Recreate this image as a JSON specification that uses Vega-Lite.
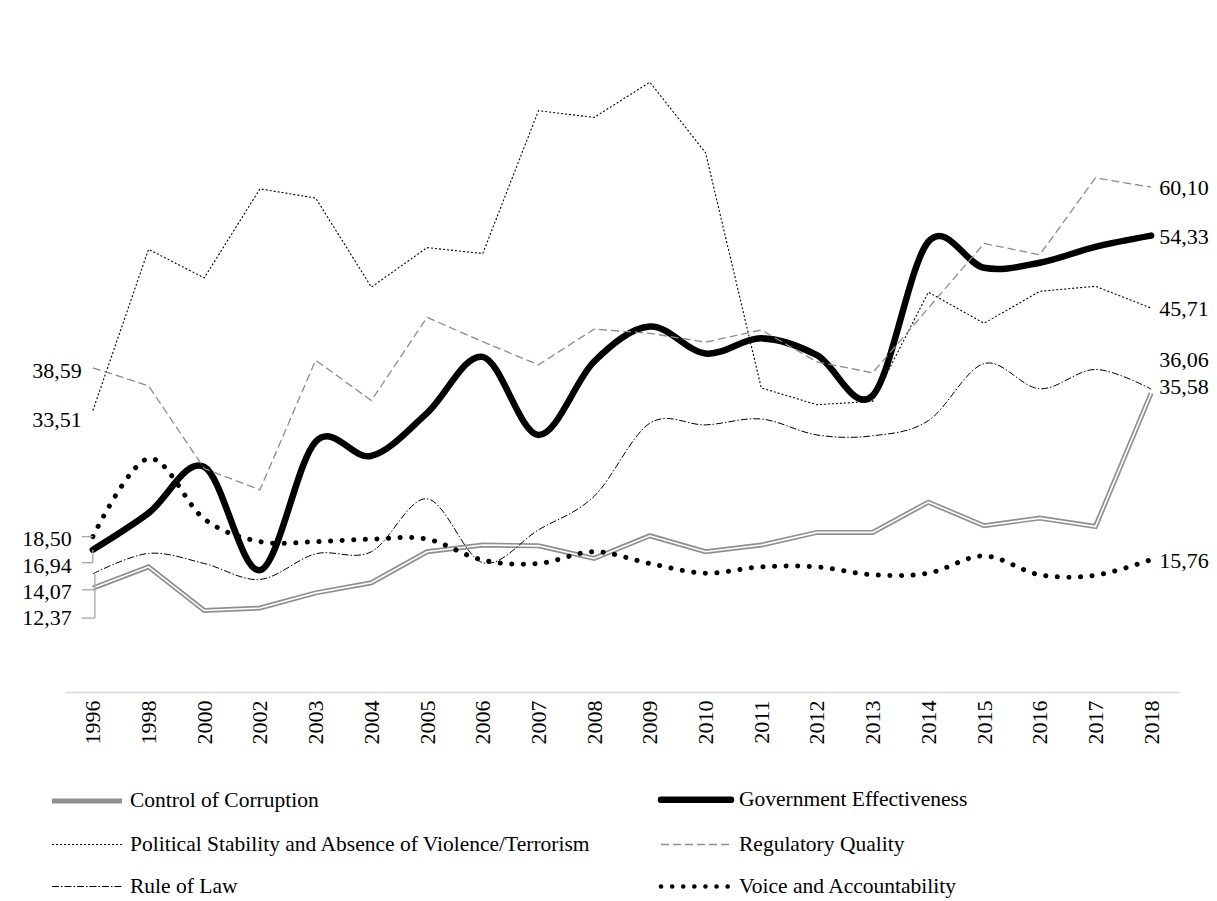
{
  "$schema": "https://vega.github.io/schema/vega-lite/v6.json",
  "width": 1114,
  "height": 672,
  "autosize": "none",
  "padding": {"left": 65, "top": 20, "right": 38, "bottom": 209},
  "background": "white",
  "config": {
    "font": "Liberation Serif",
    "view": {"stroke": null},
    "locale": {"number": {"decimal": ",", "thousands": ".", "grouping": [3], "currency": ["", ""]}}
  },
  "data": {"values": [
    {"year":"1996","Control of Corruption":12.37,"Government Effectiveness":16.94,"Political Stability and Absence of Violence/Terrorism":33.51,"Regulatory Quality":38.59,"Rule of Law":14.07,"Voice and Accountability":18.50},
    {"year":"1998","Control of Corruption":14.9,"Government Effectiveness":21.3,"Political Stability and Absence of Violence/Terrorism":52.7,"Regulatory Quality":36.45,"Rule of Law":16.5,"Voice and Accountability":27.8},
    {"year":"2000","Control of Corruption":9.7,"Government Effectiveness":26.8,"Political Stability and Absence of Violence/Terrorism":49.3,"Regulatory Quality":26.6,"Rule of Law":15.3,"Voice and Accountability":20.6},
    {"year":"2002","Control of Corruption":10.0,"Government Effectiveness":14.5,"Political Stability and Absence of Violence/Terrorism":59.9,"Regulatory Quality":24.07,"Rule of Law":13.4,"Voice and Accountability":17.9},
    {"year":"2003","Control of Corruption":11.8,"Government Effectiveness":29.8,"Political Stability and Absence of Violence/Terrorism":58.8,"Regulatory Quality":39.5,"Rule of Law":16.45,"Voice and Accountability":17.9},
    {"year":"2004","Control of Corruption":13.0,"Government Effectiveness":28.1,"Political Stability and Absence of Violence/Terrorism":48.2,"Regulatory Quality":34.7,"Rule of Law":16.7,"Voice and Accountability":18.2},
    {"year":"2005","Control of Corruption":16.7,"Government Effectiveness":33.2,"Political Stability and Absence of Violence/Terrorism":52.9,"Regulatory Quality":44.6,"Rule of Law":23.0,"Voice and Accountability":18.2},
    {"year":"2006","Control of Corruption":17.5,"Government Effectiveness":39.9,"Political Stability and Absence of Violence/Terrorism":52.2,"Regulatory Quality":41.7,"Rule of Law":15.4,"Voice and Accountability":15.7},
    {"year":"2007","Control of Corruption":17.4,"Government Effectiveness":30.6,"Political Stability and Absence of Violence/Terrorism":69.2,"Regulatory Quality":38.95,"Rule of Law":19.3,"Voice and Accountability":15.3},
    {"year":"2008","Control of Corruption":15.9,"Government Effectiveness":39.35,"Political Stability and Absence of Violence/Terrorism":68.4,"Regulatory Quality":43.2,"Rule of Law":23.3,"Voice and Accountability":16.7},
    {"year":"2009","Control of Corruption":18.6,"Government Effectiveness":43.5,"Political Stability and Absence of Violence/Terrorism":72.6,"Regulatory Quality":42.7,"Rule of Law":32.0,"Voice and Accountability":15.3},
    {"year":"2010","Control of Corruption":16.7,"Government Effectiveness":40.3,"Political Stability and Absence of Violence/Terrorism":64.2,"Regulatory Quality":41.65,"Rule of Law":31.8,"Voice and Accountability":14.15},
    {"year":"2011","Control of Corruption":17.5,"Government Effectiveness":42.1,"Political Stability and Absence of Violence/Terrorism":36.2,"Regulatory Quality":43.1,"Rule of Law":32.5,"Voice and Accountability":14.9},
    {"year":"2012","Control of Corruption":19.0,"Government Effectiveness":40.1,"Political Stability and Absence of Violence/Terrorism":34.2,"Regulatory Quality":39.3,"Rule of Law":30.6,"Voice and Accountability":14.9},
    {"year":"2013","Control of Corruption":19.0,"Government Effectiveness":35.3,"Political Stability and Absence of Violence/Terrorism":34.6,"Regulatory Quality":38.0,"Rule of Law":30.5,"Voice and Accountability":13.95},
    {"year":"2014","Control of Corruption":22.6,"Government Effectiveness":53.6,"Political Stability and Absence of Violence/Terrorism":47.6,"Regulatory Quality":45.7,"Rule of Law":32.3,"Voice and Accountability":14.15},
    {"year":"2015","Control of Corruption":19.8,"Government Effectiveness":50.5,"Political Stability and Absence of Violence/Terrorism":43.9,"Regulatory Quality":53.4,"Rule of Law":39.1,"Voice and Accountability":16.2},
    {"year":"2016","Control of Corruption":20.7,"Government Effectiveness":51.1,"Political Stability and Absence of Violence/Terrorism":47.7,"Regulatory Quality":52.05,"Rule of Law":36.1,"Voice and Accountability":13.95},
    {"year":"2017","Control of Corruption":19.7,"Government Effectiveness":53.0,"Political Stability and Absence of Violence/Terrorism":48.3,"Regulatory Quality":61.2,"Rule of Law":38.4,"Voice and Accountability":13.9},
    {"year":"2018","Control of Corruption":35.58,"Government Effectiveness":54.33,"Political Stability and Absence of Violence/Terrorism":45.71,"Regulatory Quality":60.10,"Rule of Law":36.06,"Voice and Accountability":15.76}
  ]},
  "transform": [
    {"fold": ["Control of Corruption","Government Effectiveness","Political Stability and Absence of Violence/Terrorism","Regulatory Quality","Rule of Law","Voice and Accountability"], "as": ["series","value"]}
  ],
  "encoding": {
    "x": {"field": "year", "type": "ordinal", "scale": {"type": "point", "padding": 0.5},
          "axis": {"title": null, "ticks": false, "labelAngle": -90, "labelFontSize": 22, "labelColor": "black", "labelPadding": 8, "domainColor": "#d9d9d9", "domainWidth": 1.5}},
    "y": {"field": "value", "type": "quantitative", "scale": {"domain": [0, 80], "nice": false, "zero": true}, "axis": null}
  },
  "layer": [
    {
      "transform": [{"filter": {"field": "series", "equal": "Control of Corruption"}}],
      "mark": {"type": "line", "interpolate": "linear", "strokeWidth": 5, "strokeJoin": "miter"},
      "encoding": {
        "color": {"field": "series", "type": "nominal",
          "scale": {"domain": ["Control of Corruption","Government Effectiveness","Political Stability and Absence of Violence/Terrorism","Regulatory Quality","Rule of Law","Voice and Accountability"],
                    "range": ["#8f8f8f","#000000","#000000","#8c8c8c","#000000","#000000"]},
          "legend": {"title": null, "orient": "none", "legendX": -14, "legendY": 761, "columns": 2, "direction": "horizontal",
                     "symbolType": "M-1,0H3", "symbolSize": 1225, "labelFontSize": 21.5, "labelColor": "black", "labelLimit": 0,
                     "columnPadding": 56, "rowPadding": 13, "labelOffset": 42,
                     "encode": {"symbols": {"update": {
                       "fill": {"value": "transparent"},
                       "strokeWidth": {"signal": "(datum.value === 'Control of Corruption' ? 5 : datum.value === 'Government Effectiveness' ? 6.5 : datum.value === 'Voice and Accountability' ? 4.5 : datum.value === 'Regulatory Quality' ? 1.3 : 1.1)"},
                       "strokeDash": {"signal": "(datum.value === 'Political Stability and Absence of Violence/Terrorism' ? [2,2] : datum.value === 'Regulatory Quality' ? [8,4] : datum.value === 'Rule of Law' ? [7,2,1.5,2] : datum.value === 'Voice and Accountability' ? [0.1,11] : [1,0])"},
                       "strokeCap": {"signal": "(datum.value === 'Voice and Accountability' || datum.value === 'Government Effectiveness' ? 'round' : 'butt')"}
                     }}}}}
      }
    },
    {
      "transform": [{"filter": {"field": "series", "equal": "Control of Corruption"}}],
      "mark": {"type": "line", "interpolate": "linear", "color": "white", "strokeWidth": 1.6, "strokeJoin": "miter"},
      "encoding": {}
    },
    {
      "transform": [{"filter": {"field": "series", "equal": "Government Effectiveness"}}],
      "mark": {"type": "line", "interpolate": "cardinal", "color": "black", "strokeWidth": 6.5, "strokeCap": "round"},
      "encoding": {}
    },
    {
      "transform": [{"filter": {"field": "series", "equal": "Political Stability and Absence of Violence/Terrorism"}}],
      "mark": {"type": "line", "interpolate": "linear", "color": "black", "strokeWidth": 1.1, "strokeDash": [2, 2]},
      "encoding": {}
    },
    {
      "transform": [{"filter": {"field": "series", "equal": "Regulatory Quality"}}],
      "mark": {"type": "line", "interpolate": "linear", "color": "#8c8c8c", "strokeWidth": 1.3, "strokeDash": [8, 4]},
      "encoding": {}
    },
    {
      "transform": [{"filter": {"field": "series", "equal": "Rule of Law"}}],
      "mark": {"type": "line", "interpolate": "cardinal", "color": "black", "strokeWidth": 1, "strokeDash": [7, 2, 1.5, 2]},
      "encoding": {}
    },
    {
      "transform": [{"filter": {"field": "series", "equal": "Voice and Accountability"}}],
      "mark": {"type": "line", "interpolate": "cardinal", "color": "black", "strokeWidth": 5, "strokeDash": [0.1, 11.5], "strokeCap": "round"},
      "encoding": {}
    },
    {
      "transform": [{"filter": "datum.year == '1996' && datum.series == 'Regulatory Quality'"}],
      "mark": {"type": "text", "align": "right", "baseline": "middle", "dx": -11, "dy": 3, "fontSize": 22, "color": "black"},
      "encoding": {"text": {"field": "value", "type": "quantitative", "format": ".2f"}}
    },
    {
      "transform": [{"filter": "datum.year == '1996' && datum.series == 'Political Stability and Absence of Violence/Terrorism'"}],
      "mark": {"type": "text", "align": "right", "baseline": "middle", "dx": -11, "dy": 9, "fontSize": 22, "color": "black"},
      "encoding": {"text": {"field": "value", "type": "quantitative", "format": ".2f"}}
    },
    {
      "transform": [{"filter": "datum.year == '1996' && datum.series == 'Voice and Accountability'"}],
      "mark": {"type": "text", "align": "right", "baseline": "middle", "dx": -21, "dy": 2, "fontSize": 22, "color": "black"},
      "encoding": {"text": {"field": "value", "type": "quantitative", "format": ".2f"}}
    },
    {
      "transform": [{"filter": "datum.year == '1996' && datum.series == 'Government Effectiveness'"}],
      "mark": {"type": "text", "align": "right", "baseline": "middle", "dx": -21, "dy": 16, "fontSize": 22, "color": "black"},
      "encoding": {"text": {"field": "value", "type": "quantitative", "format": ".2f"}}
    },
    {
      "transform": [{"filter": "datum.year == '1996' && datum.series == 'Rule of Law'"}],
      "mark": {"type": "text", "align": "right", "baseline": "middle", "dx": -21, "dy": 18, "fontSize": 22, "color": "black"},
      "encoding": {"text": {"field": "value", "type": "quantitative", "format": ".2f"}}
    },
    {
      "transform": [{"filter": "datum.year == '1996' && datum.series == 'Control of Corruption'"}],
      "mark": {"type": "text", "align": "right", "baseline": "middle", "dx": -21, "dy": 30, "fontSize": 22, "color": "black"},
      "encoding": {"text": {"field": "value", "type": "quantitative", "format": ".2f"}}
    },
    {
      "transform": [{"filter": "datum.year == '2018' && (datum.series == 'Regulatory Quality' || datum.series == 'Political Stability and Absence of Violence/Terrorism' || datum.series == 'Government Effectiveness' || datum.series == 'Voice and Accountability')"}],
      "mark": {"type": "text", "align": "left", "baseline": "middle", "dx": 8, "dy": 1, "fontSize": 22, "color": "black"},
      "encoding": {"text": {"field": "value", "type": "quantitative", "format": ".2f"}}
    },
    {
      "transform": [{"filter": "datum.year == '2018' && datum.series == 'Rule of Law'"}],
      "mark": {"type": "text", "align": "left", "baseline": "middle", "dx": 8, "dy": -29, "fontSize": 22, "color": "black"},
      "encoding": {"text": {"field": "value", "type": "quantitative", "format": ".2f"}}
    },
    {
      "transform": [{"filter": "datum.year == '2018' && datum.series == 'Control of Corruption'"}],
      "mark": {"type": "text", "align": "left", "baseline": "middle", "dx": 8, "dy": -6, "fontSize": 22, "color": "black"},
      "encoding": {"text": {"field": "value", "type": "quantitative", "format": ".2f"}}
    },
    {
      "transform": [{"filter": "datum.year == '1996' && datum.series == 'Voice and Accountability'"}],
      "mark": {"type": "rule", "color": "#a6a6a6", "strokeWidth": 1.3, "xOffset": -11, "x2Offset": 0, "yOffset": 0, "y2Offset": 0},
      "encoding": {"x2": {"field": "year"}, "y2": {"field": "value"}}
    },
    {
      "transform": [{"filter": "datum.year == '1996' && datum.series == 'Government Effectiveness'"}],
      "mark": {"type": "rule", "color": "#a6a6a6", "strokeWidth": 1.3, "xOffset": -11, "x2Offset": 0, "yOffset": 13, "y2Offset": 13},
      "encoding": {"x2": {"field": "year"}, "y2": {"field": "value"}}
    },
    {
      "transform": [{"filter": "datum.year == '1996' && datum.series == 'Government Effectiveness'"}],
      "mark": {"type": "rule", "color": "#a6a6a6", "strokeWidth": 1.3, "xOffset": 0, "x2Offset": 0, "yOffset": 13, "y2Offset": 0},
      "encoding": {"x2": {"field": "year"}, "y2": {"field": "value"}}
    },
    {
      "transform": [{"filter": "datum.year == '1996' && datum.series == 'Rule of Law'"}],
      "mark": {"type": "rule", "color": "#a6a6a6", "strokeWidth": 1.3, "xOffset": -11, "x2Offset": 2, "yOffset": 16, "y2Offset": 16},
      "encoding": {"x2": {"field": "year"}, "y2": {"field": "value"}}
    },
    {
      "transform": [{"filter": "datum.year == '1996' && datum.series == 'Rule of Law'"}],
      "mark": {"type": "rule", "color": "#a6a6a6", "strokeWidth": 1.3, "xOffset": 2, "x2Offset": 2, "yOffset": 16, "y2Offset": 0},
      "encoding": {"x2": {"field": "year"}, "y2": {"field": "value"}}
    },
    {
      "transform": [{"filter": "datum.year == '1996' && datum.series == 'Control of Corruption'"}],
      "mark": {"type": "rule", "color": "#a6a6a6", "strokeWidth": 1.3, "xOffset": -11, "x2Offset": 2, "yOffset": 30, "y2Offset": 30},
      "encoding": {"x2": {"field": "year"}, "y2": {"field": "value"}}
    },
    {
      "transform": [{"filter": "datum.year == '1996' && datum.series == 'Control of Corruption'"}],
      "mark": {"type": "rule", "color": "#a6a6a6", "strokeWidth": 1.3, "xOffset": 2, "x2Offset": 2, "yOffset": 30, "y2Offset": 0},
      "encoding": {"x2": {"field": "year"}, "y2": {"field": "value"}}
    }
  ]
}
